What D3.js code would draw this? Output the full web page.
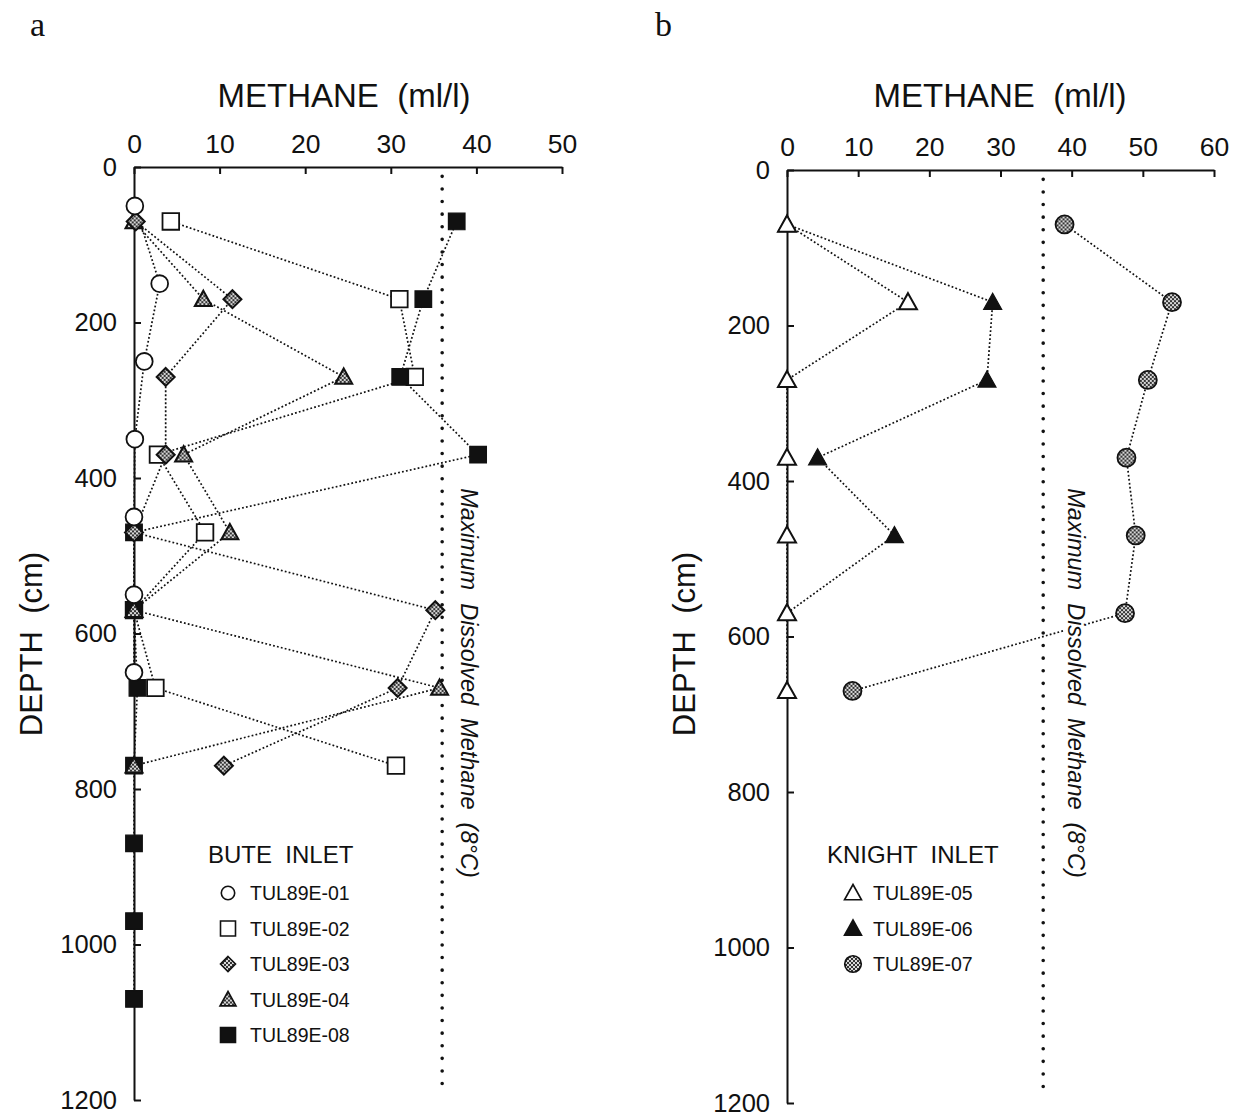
<!DOCTYPE html>
<html>
<head>
<meta charset="utf-8">
<script src="https://cdn.jsdelivr.net/npm/d3@7"></script>
<style>
  html, body { margin: 0; padding: 0; background: #fff; }
  svg { display: block; }
  text { font-family: "Liberation Sans", Arial, Helvetica, sans-serif; fill: #111; white-space: pre; }
</style>
</head>
<body>
<svg id="chart" width="1238" height="1116"></svg>
<script>
// ---- Methane profiles, Bute Inlet cores (depth in cm, methane in ml/l) ----
const buteDepths01 = [50, 150, 250, 350, 450, 550, 650];
const buteValues01 = [0.1, 3, 1.2, 0.1, 0, 0, 0];
const buteDepths02 = [70, 170, 270, 370, 470, 570, 670, 770];
const buteValues02 = [4.3, 31, 32.8, 2.8, 8.3, 0, 2.5, 30.6];
const buteDepths03 = [70, 170, 270, 370, 470, 570, 670, 770];
const buteValues03 = [0.2, 11.5, 3.7, 3.7, 0, 35.2, 30.8, 10.5];
const buteDepths04 = [70, 170, 270, 370, 470, 570, 670, 770];
const buteValues04 = [0, 8.1, 24.5, 5.8, 11.2, 0, 35.7, 0];
const buteDepths08 = [70, 170, 270, 370, 470, 570, 670, 770, 870, 970, 1070];
const buteValues08 = [37.7, 33.8, 31.1, 40.2, 0, 0, 0.4, 0, 0, 0, 0];

// ---- Knight Inlet cores ----
const knightDepths05 = [70, 170, 270, 370, 470, 570, 670];
const knightValues05 = [0, 17, 0, 0, 0, 0, 0];
const knightDepths06 = [70, 170, 270, 370, 470, 570];
const knightValues06 = [0, 28.9, 28.1, 4.3, 15.1, 0];
const knightDepths07 = [70, 170, 270, 370, 470, 570, 670];
const knightValues07 = [39, 54.1, 50.7, 47.7, 49, 47.5, 9.2];

// ---- Axes and reference line ----
const xTicksA = [0, 10, 20, 30, 40, 50];
const xTicksB = [0, 10, 20, 30, 40, 50, 60];
const depthTicks = [0, 200, 400, 600, 800, 1000, 1200];
const maxDissolved = 36; // ml/l at 8 °C
const maxLabel = "Maximum  Dissolved  Methane  (8°C)";
const xTitle = "METHANE  (ml/l)";
const yTitle = "DEPTH  (cm)";

const svg = d3.select("#chart");

// grey stipple used for the patterned markers
const defs = svg.append("defs");
const pat = defs.append("pattern").attr("id", "stipple")
  .attr("patternUnits", "userSpaceOnUse").attr("width", 4).attr("height", 4);
pat.append("rect").attr("width", 4).attr("height", 4).attr("fill", "#d8d8d8");
pat.append("rect").attr("x", 0).attr("y", 0).attr("width", 2).attr("height", 2).attr("fill", "#333");
pat.append("rect").attr("x", 2).attr("y", 2).attr("width", 2).attr("height", 2).attr("fill", "#333");

// marker shapes
const shapes = {
  circle: r => `M${r},0A${r},${r} 0 1,1 ${-r},0A${r},${r} 0 1,1 ${r},0Z`,
  square: s => `M${-s},${-s}H${s}V${s}H${-s}Z`,
  diamond: s => `M0,${-s}L${s},0L0,${s}L${-s},0Z`,
  triangle: s => `M0,${-s}L${s},${s * 0.8}L${-s},${s * 0.8}Z`
};

const fontSans = "'Liberation Sans', Arial, sans-serif";

function panel(cfg) {
  const x = d3.scaleLinear().domain(cfg.xDomain).range(cfg.xRange);
  const y = d3.scaleLinear().domain([0, 1200]).range(cfg.yRange);
  const g = svg.append("g");

  // panel letter
  g.append("text").attr("x", cfg.letterX).attr("y", 36)
    .style("font-family", "'Liberation Serif', 'Times New Roman', serif")
    .style("font-size", "34px").text(cfg.letter);

  // top methane axis
  const xAxis = d3.axisTop(x).tickValues(cfg.xTicks).tickFormat(d3.format("d"))
    .tickSizeInner(-7).tickSizeOuter(0).tickPadding(14);
  const gx = g.append("g").attr("transform", `translate(0,${y(0)})`).call(xAxis);
  gx.select(".domain").attr("stroke", "#111").attr("stroke-width", 2);
  gx.selectAll(".tick line").attr("stroke", "#111").attr("stroke-width", 2);
  gx.selectAll(".tick text").style("font-size", "26.5px").style("font-family", fontSans).attr("fill", "#111");

  // left depth axis
  const yAxis = d3.axisLeft(y).tickValues(depthTicks).tickFormat(d3.format("d"))
    .tickSizeInner(-7).tickSizeOuter(0).tickPadding(17);
  const gy = g.append("g").attr("transform", `translate(${x(0)},0)`).call(yAxis);
  gy.select(".domain").attr("stroke", "#111").attr("stroke-width", 2);
  gy.selectAll(".tick line").attr("stroke", "#111").attr("stroke-width", 2);
  gy.selectAll(".tick text").style("font-size", "25.5px").style("font-family", fontSans).attr("fill", "#111");

  // axis titles
  g.append("text").attr("x", cfg.titleX).attr("y", 107).attr("text-anchor", "middle")
    .style("font-size", "33px").text(xTitle);
  g.append("text").attr("transform", `translate(${cfg.yTitleX},${cfg.yTitleY}) rotate(-90)`)
    .attr("text-anchor", "middle").style("font-size", "31px").text(yTitle);

  // maximum dissolved methane line
  g.append("line")
    .attr("x1", x(maxDissolved)).attr("x2", x(maxDissolved))
    .attr("y1", y(12)).attr("y2", y(1185))
    .attr("stroke", "#111").attr("stroke-width", 3.6)
    .attr("stroke-linecap", "round").attr("stroke-dasharray", "0 12.6");

  // profile lines
  const line = d3.line().x(d => x(d[1])).y(d => y(d[0]));
  cfg.series.forEach(s => {
    const pts = d3.zip(s.depths, s.values);
    g.append("path").attr("d", line(pts)).attr("fill", "none")
      .attr("stroke", "#111").attr("stroke-width", 1.7).attr("stroke-dasharray", "1.8 2.2");
  });

  // rotated label, knocked out of anything it crosses
  const lab = g.append("g").attr("transform", `translate(${cfg.labelX},${cfg.labelY}) rotate(90)`);
  const knock = lab.append("rect").attr("fill", "#fff");
  const lt = lab.append("text").attr("text-anchor", "middle").attr("dy", "0.35em")
    .style("font-size", "23.5px").style("font-style", "italic").text(maxLabel);

  // markers
  cfg.series.slice().sort((a, b) => a.z - b.z).forEach(s => {
    const pts = d3.zip(s.depths, s.values);
    g.append("g").selectAll("path").data(pts).join("path")
      .attr("transform", d => `translate(${x(d[1])},${y(d[0])})`)
      .attr("d", shapes[s.shape](s.size))
      .attr("fill", s.fill).attr("stroke", "#111").attr("stroke-width", s.sw);
  });

  const bb = lt.node().getBBox();
  knock.attr("x", bb.x - 2).attr("y", bb.y + 1).attr("width", bb.width + 4).attr("height", bb.height - 2);

  // legend
  const lg = g.append("g");
  lg.append("text").attr("x", cfg.legX).attr("y", cfg.legY).style("font-size", "24px").text(cfg.legTitle);
  cfg.series.forEach((s, i) => {
    const yy = cfg.legY + 37 + i * cfg.legStep;
    lg.append("path").attr("transform", `translate(${cfg.legSymX},${yy - 7})`)
      .attr("d", shapes[s.shape](s.legSize)).attr("fill", s.fill)
      .attr("stroke", "#111").attr("stroke-width", 1.6);
    lg.append("text").attr("x", cfg.legTextX).attr("y", yy).style("font-size", "19.5px").text(s.name);
  });
}

panel({
  letter: "a", letterX: 30,
  xDomain: [0, 50], xRange: [134, 562], yRange: [167, 1100], xTicks: xTicksA,
  titleX: 344, yTitleX: 42, yTitleY: 644,
  labelX: 469, labelY: 683,
  legTitle: "BUTE  INLET", legX: 208, legY: 863, legSymX: 228, legTextX: 250, legStep: 35.5,
  series: [
    { name: "TUL89E-01", depths: buteDepths01, values: buteValues01, shape: "circle", size: 8.4, legSize: 6.7, fill: "#fff", sw: 1.8, z: 5 },
    { name: "TUL89E-02", depths: buteDepths02, values: buteValues02, shape: "square", size: 8.3, legSize: 7.5, fill: "#fff", sw: 1.8, z: 1 },
    { name: "TUL89E-03", depths: buteDepths03, values: buteValues03, shape: "diamond", size: 9, legSize: 7.5, fill: "url(#stipple)", sw: 2, z: 4 },
    { name: "TUL89E-04", depths: buteDepths04, values: buteValues04, shape: "triangle", size: 8.5, legSize: 8, fill: "url(#stipple)", sw: 2, z: 3 },
    { name: "TUL89E-08", depths: buteDepths08, values: buteValues08, shape: "square", size: 8.3, legSize: 7.5, fill: "#111", sw: 1.2, z: 2 }
  ]
});

panel({
  letter: "b", letterX: 655,
  xDomain: [0, 60], xRange: [787, 1214], yRange: [170, 1103], xTicks: xTicksB,
  titleX: 1000, yTitleX: 695, yTitleY: 644,
  labelX: 1076, labelY: 683,
  legTitle: "KNIGHT  INLET", legX: 827, legY: 863, legSymX: 853, legTextX: 873, legStep: 35.5,
  series: [
    { name: "TUL89E-05", depths: knightDepths05, values: knightValues05, shape: "triangle", size: 9, legSize: 8.5, fill: "#fff", sw: 2, z: 2 },
    { name: "TUL89E-06", depths: knightDepths06, values: knightValues06, shape: "triangle", size: 9, legSize: 8.5, fill: "#111", sw: 1.2, z: 1 },
    { name: "TUL89E-07", depths: knightDepths07, values: knightValues07, shape: "circle", size: 9, legSize: 8.3, fill: "url(#stipple)", sw: 1.8, z: 3 }
  ]
});
</script>
</body>
</html>
